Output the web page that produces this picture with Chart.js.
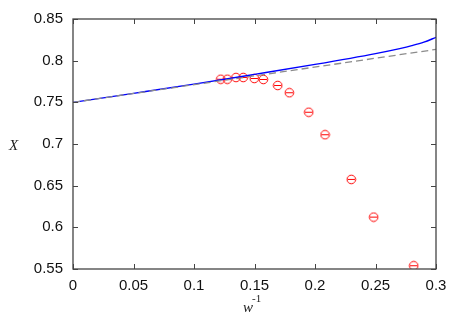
<!DOCTYPE html>
<html>
<head>
<meta charset="utf-8">
<script src="https://cdn.jsdelivr.net/npm/chart.js@4/dist/chart.umd.min.js"></script>
<style>
  html,body{margin:0;padding:0;background:#fff;}
  #wrap{width:463px;height:334px;position:relative;}
</style>
</head>
<body>
<div id="wrap"><canvas id="c" width="463" height="334"></canvas></div>
<script>
// ---- data ----
const xTicks = [0, 0.05, 0.1, 0.15, 0.2, 0.25, 0.3];
const yTicks = [0.55, 0.6, 0.65, 0.7, 0.75, 0.8, 0.85];

// blue solid curve
const curveX = [0, 0.05, 0.1, 0.15, 0.2, 0.25, 0.27, 0.28, 0.29, 0.3];
const curveY = [0.750, 0.7608, 0.7718, 0.7835, 0.7955, 0.8085, 0.8145, 0.8180, 0.8222, 0.8280];

// grey dashed straight line
const dashX = [0, 0.3];
const dashY = [0.750, 0.8135];

// red markers
const ptsX = [0.1221, 0.1275, 0.1347, 0.1407, 0.1498, 0.1573, 0.1692, 0.1788, 0.1948, 0.2083, 0.2300, 0.2485, 0.2816];
const ptsY = [0.7777, 0.7777, 0.7798, 0.7798, 0.7786, 0.7774, 0.7702, 0.7615, 0.7381, 0.7111, 0.6575, 0.6123, 0.5539];

const zip = (xs, ys) => xs.map((x, i) => ({x, y: ys[i]}));
const fmt = v => String(+Number(v).toFixed(2)); // 0.80 -> 0.8

// circle with a bar through it, like the gnuplot marker
function makeMarker(){
  const s = 11, m = document.createElement('canvas');
  m.width = s; m.height = s;
  const g = m.getContext('2d');
  g.strokeStyle = '#ff0000';
  g.lineWidth = 1;
  g.beginPath(); g.arc(s/2, s/2, 4.3, 0, Math.PI*2); g.stroke();
  g.beginPath(); g.moveTo(s/2-3.5, s/2); g.lineTo(s/2+3.5, s/2); g.stroke();
  return m;
}

const AXIS = '#444';
const TICKFONT = {family:'"Liberation Sans", Arial, sans-serif', size:15};

// inward ticks on all four sides + frame + axis titles
const framePlugin = {
  id:'frame',
  afterDraw(chart){
    const {ctx, chartArea:a, scales:{x, y}} = chart;
    ctx.save();
    ctx.strokeStyle = AXIS;
    ctx.lineWidth = 1;
    const L = 5;
    ctx.beginPath();
    xTicks.forEach(v=>{
      const px = Math.round(x.getPixelForValue(v)) + 0.5;
      ctx.moveTo(px, a.bottom); ctx.lineTo(px, a.bottom - L);
      ctx.moveTo(px, a.top); ctx.lineTo(px, a.top + L);
    });
    yTicks.forEach(v=>{
      const py = Math.round(y.getPixelForValue(v)) + 0.5;
      ctx.moveTo(a.left, py); ctx.lineTo(a.left + L, py);
      ctx.moveTo(a.right, py); ctx.lineTo(a.right - L, py);
    });
    ctx.stroke();
    ctx.lineWidth = 1.3;
    ctx.strokeRect(a.left, a.top, a.right - a.left, a.bottom - a.top);

    // axis titles
    ctx.fillStyle = '#222';
    ctx.font = 'italic 15px "Liberation Serif", "DejaVu Serif", serif';
    ctx.textAlign = 'left';
    ctx.textBaseline = 'alphabetic';
    ctx.fillText('X', 9, 150);
    ctx.fillText('w', 243, 312);
    ctx.font = '11px "Liberation Serif", "DejaVu Serif", serif';
    ctx.fillText('-1', 252, 302);
    ctx.restore();
  }
};

new Chart(document.getElementById('c').getContext('2d'), {
  type:'scatter',
  data:{
    datasets:[
      { type:'line', data:zip(dashX, dashY), borderColor:'#8c8c8c', borderWidth:1.3,
        borderDash:[7,4], pointRadius:0, fill:false, tension:0 },
      { type:'line', data:zip(curveX, curveY), borderColor:'#0000ff', borderWidth:1.4,
        pointRadius:0, fill:false, cubicInterpolationMode:'monotone' },
      { data:zip(ptsX, ptsY), pointStyle:makeMarker(), pointRadius:5 }
    ]
  },
  options:{
    responsive:false,
    animation:false,
    events:[],
    layout:{padding:{left:0, right:27, top:17, bottom:0}},
    plugins:{legend:{display:false}, tooltip:{enabled:false}},
    scales:{
      x:{
        type:'linear', min:0, max:0.3,
        afterBuildTicks:s=>{ s.ticks = xTicks.map(v=>({value:v})); },
        afterFit:s=>{ s.height = 334 - 269; },
        grid:{display:false, drawTicks:false},
        border:{display:false},
        ticks:{color:'#111', font:TICKFONT, padding:8, maxRotation:0, callback:fmt}
      },
      y:{
        type:'linear', min:0.55, max:0.85,
        afterBuildTicks:s=>{ s.ticks = yTicks.map(v=>({value:v})); },
        afterFit:s=>{ s.width = 73; },
        grid:{display:false, drawTicks:false},
        border:{display:false},
        ticks:{color:'#111', font:TICKFONT, padding:10, callback:fmt}
      }
    }
  },
  plugins:[framePlugin]
});
</script>
</body>
</html>
